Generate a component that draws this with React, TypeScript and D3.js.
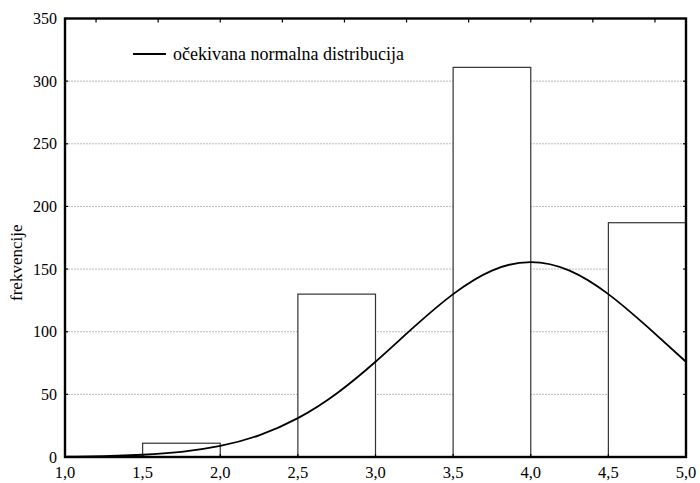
import React from "react";
import * as d3 from "d3";

const binStarts = [1.0, 1.5, 2.0, 2.5, 3.0, 3.5, 4.0, 4.5];
const binCounts = [0, 11, 0, 130, 0, 311, 0, 187];
const binWidth = 0.5;
const curveX = [1.0, 1.25, 1.5, 1.75, 2.0, 2.25, 2.5, 2.75, 3.0, 3.25, 3.5, 3.75, 4.0, 4.25, 4.5, 4.75, 5.0];
const curveY = [0.25, 0.7, 1.8, 4.1, 8.8, 17.3, 31, 50.7, 76, 104, 130, 148.8, 155.6, 148.8, 130, 104, 76];
const xTicks = [1.0, 1.5, 2.0, 2.5, 3.0, 3.5, 4.0, 4.5, 5.0];
const yTicks = [0, 50, 100, 150, 200, 250, 300, 350];
const topCats = ["1", "2", "3", "4", "5", "6", "7", "8", "9", "10"];
const legendLabel = "očekivana normalna distribucija";
const yLabel = "frekvencije";

const W = 700, H = 483;
const L = 65, R = 686, T = 18.5, B = 457;
const font = "Liberation Serif, DejaVu Serif, serif";

export default function App() {
  const x = d3.scaleLinear().domain([1, 5]).range([L, R]);
  const y = d3.scaleLinear().domain([0, 350]).range([B, T]);
  const top = d3.scaleBand().domain(topCats).range([L, R]);
  const line = d3
    .line<number>()
    .x((_, i) => x(curveX[i]))
    .y((d) => y(d))
    .curve(d3.curveNatural);
  const fmt = (v: number) => v.toFixed(1).replace(".", ",");
  return (
    <svg width={W} height={H} style={{ position: "absolute", left: 0, top: 0, background: "#fff" }}>
      <rect x={0} y={0} width={W} height={H} fill="#fff" />
      {yTicks.filter((t) => t > 0 && t < 350).map((t) => (
        <line key={"g" + t} x1={L} x2={R} y1={y(t)} y2={y(t)} stroke="#bbb" strokeWidth={1} strokeDasharray="2,1" />
      ))}
      {binStarts.map((s, i) =>
        binCounts[i] > 0 ? (
          <rect
            key={"b" + i}
            x={x(s)}
            y={y(binCounts[i])}
            width={x(s + binWidth) - x(s)}
            height={y(0) - y(binCounts[i])}
            fill="#fff"
            stroke="#333"
            strokeWidth={1.2}
          />
        ) : null
      )}
      <path d={line(curveY) || ""} fill="none" stroke="#000" strokeWidth={1.8} />
      <rect x={L} y={T} width={R - L} height={B - T} fill="none" stroke="#000" strokeWidth={2.4} />
      {yTicks.map((t) => (
        <g key={"yt" + t}>
          <line x1={L} x2={L + 3} y1={y(t)} y2={y(t)} stroke="#000" strokeWidth={1.2} />
          <line x1={R} x2={R - 3} y1={y(t)} y2={y(t)} stroke="#000" strokeWidth={1.2} />
          <text x={57} y={y(t)} dy="0.35em" textAnchor="end" style={{ fontFamily: font, fontSize: 16 }} fill="#000">
            {t}
          </text>
        </g>
      ))}
      {xTicks.map((t) => (
        <g key={"xt" + t}>
          <line x1={x(t)} x2={x(t)} y1={B} y2={B - 3} stroke="#000" strokeWidth={1.2} />
          <text x={x(t)} y={478} textAnchor="middle" style={{ fontFamily: font, fontSize: 16.5 }} fill="#000">
            {fmt(t)}
          </text>
        </g>
      ))}
      {topCats.map((c) => (
        <line
          key={"tt" + c}
          x1={(top(c) as number) + top.bandwidth() / 2}
          x2={(top(c) as number) + top.bandwidth() / 2}
          y1={T}
          y2={T + 4}
          stroke="#000"
          strokeWidth={1.2}
        />
      ))}
      <text
        transform={`translate(22,${(T + B) / 2 + 25}) rotate(-90)`}
        textAnchor="middle"
        style={{ fontFamily: font, fontSize: 17 }}
        fill="#000"
      >
        {yLabel}
      </text>
      <line x1={133} x2={166} y1={54} y2={54} stroke="#000" strokeWidth={2} />
      <text x={173} y={54} dy="0.35em" style={{ fontFamily: font, fontSize: 18 }} fill="#000">
        {legendLabel}
      </text>
    </svg>
  );
}
